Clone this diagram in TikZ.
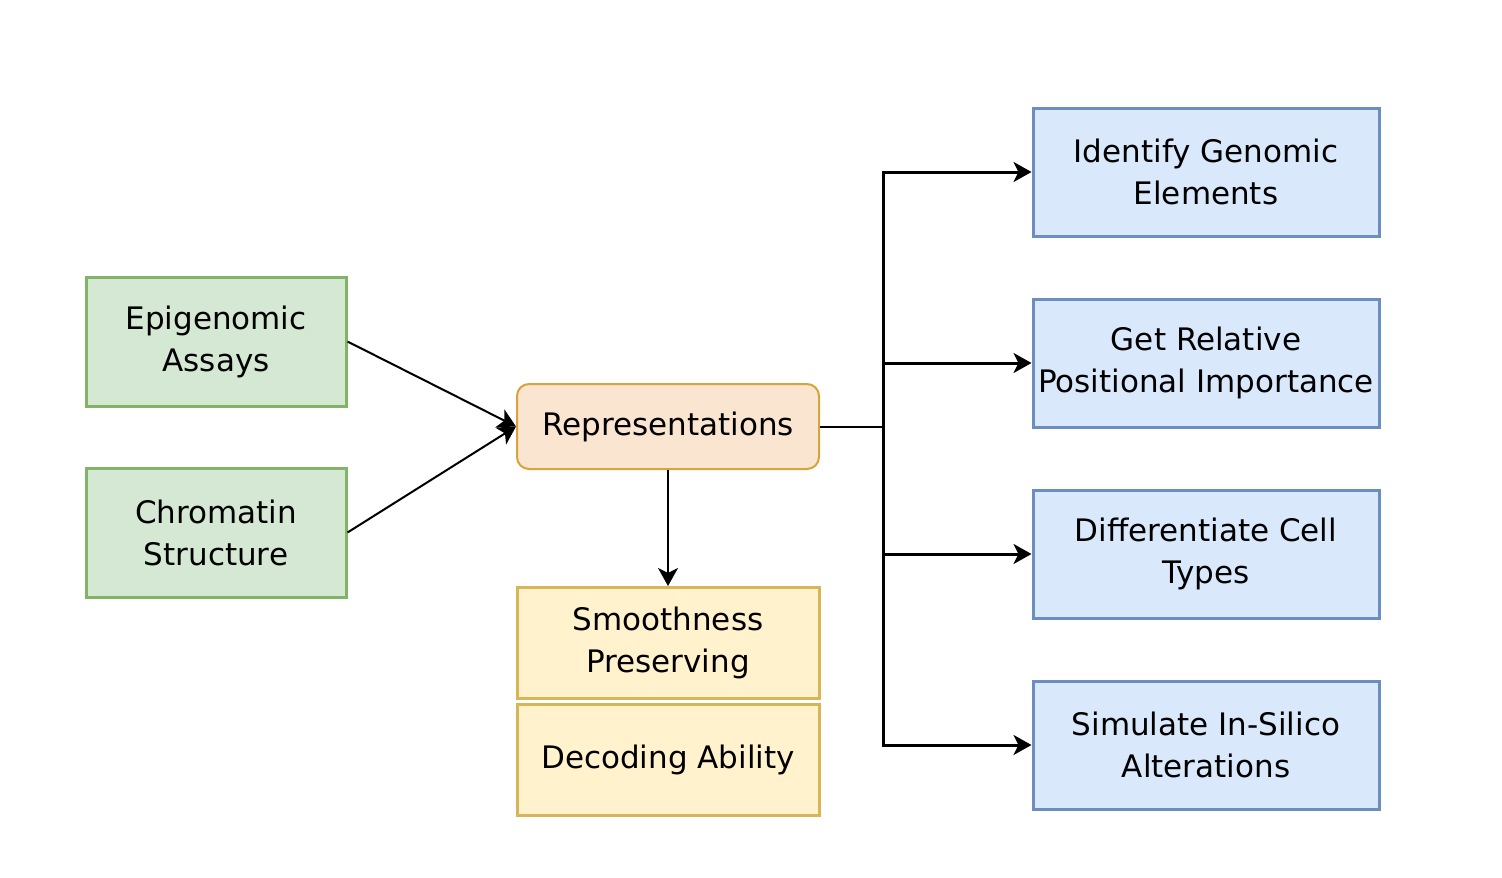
\documentclass[tikz,border=0pt]{standalone}
\usepackage{fontspec}
\setmainfont{DejaVu Sans}
\usetikzlibrary{arrows.meta}
\definecolor{gfill}{HTML}{D5E8D4}
\definecolor{gline}{HTML}{82B366}
\definecolor{ofill}{HTML}{FAE5D0}
\definecolor{oline}{HTML}{D7A43C}
\definecolor{yfill}{HTML}{FFF2CC}
\definecolor{yline}{HTML}{D6B656}
\definecolor{bfill}{HTML}{DAE8FC}
\definecolor{bline}{HTML}{6C8EBF}
\tikzset{
  txt/.style={align=center, inner sep=0pt, font=\fontsize{31}{42}\selectfont},
  greenbox/.style={txt, draw=gline, fill=gfill, line width=3pt, minimum width=260pt, minimum height=129pt},
  repbox/.style={txt, draw=oline, fill=ofill, line width=2pt, rounded corners=12pt, minimum width=302pt, minimum height=85pt},
  yellowbox/.style={txt, draw=yline, fill=yfill, line width=3pt, minimum width=302pt, minimum height=111pt},
  bluebox/.style={txt, draw=bline, fill=bfill, line width=3pt, minimum width=346pt, minimum height=128pt},
  thinarrow/.style={line width=2pt, -{Stealth[length=18pt,width=20pt,inset=5pt]}},
  thickarrow/.style={line width=3pt, -{Stealth[length=18pt,width=20pt,inset=5pt]}},
}
\begin{document}
\begin{tikzpicture}[x=1pt,y=-1pt]
\useasboundingbox (0,0) rectangle (1502,878);
\node[greenbox] (ep) at (216,341.5) {Epigenomic\\Assays};
\node[greenbox] (ch) at (216,532.5) {Chromatin\\Structure};
\node[repbox] (rep) at (668,426.5) {Representations};
\node[yellowbox] (sm) at (668,643) {Smoothness\\Preserving};
\node[yellowbox] (dec) at (668,759.5) {Decoding Ability};
\node[bluebox] (b1) at (1206,172) {Identify Genomic\\Elements};
\node[bluebox] (b2) at (1206,363) {Get Relative\\Positional Importance};
\node[bluebox] (b3) at (1206,554) {Differentiate Cell\\Types};
\node[bluebox] (b4) at (1206,745) {Simulate In-Silico\\Alterations};
\coordinate (tr) at (883,426.5);
\draw[thinarrow] (ep.east) -- (rep.west);
\draw[thinarrow] (ch.east) -- (rep.west);
\draw[thinarrow] (rep.south) -- (sm.north);
\draw[line width=2pt] (rep.east) -- (tr);
\draw[thickarrow] (tr) |- (b1.west);
\draw[thickarrow] (tr) |- (b2.west);
\draw[thickarrow] (tr) |- (b3.west);
\draw[thickarrow] (tr) |- (b4.west);
\end{tikzpicture}
\end{document}
